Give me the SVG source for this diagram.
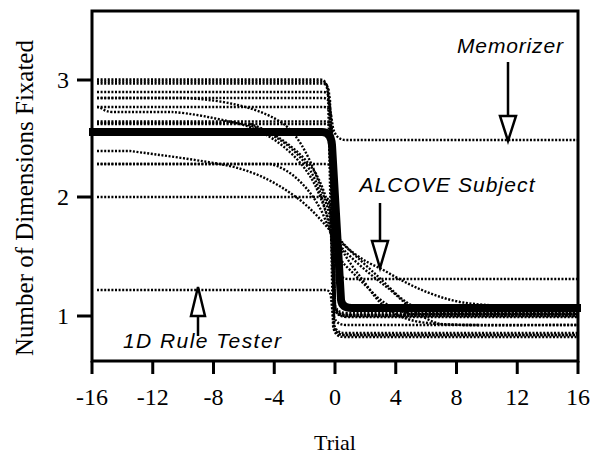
<svg xmlns="http://www.w3.org/2000/svg" width="592" height="455" viewBox="0 0 592 455">
<style>
.axis{fill:none;stroke:#000;stroke-width:3}
.tick{stroke:#000;stroke-width:3}
.dot{fill:none;stroke:#000;stroke-width:2.4;stroke-dasharray:2 1.6}
.thick{fill:none;stroke:#000;stroke-width:8;stroke-linejoin:round}
.num{font-family:"Liberation Serif","Times New Roman",serif;font-size:24px;fill:#000}
.ylab{font-family:"Liberation Serif","Times New Roman",serif;font-size:25px;fill:#000}
.lab{font-family:"Liberation Serif","Times New Roman",serif;font-size:22px;fill:#000}
.ann{font-family:"Liberation Sans",Arial,sans-serif;font-style:italic;font-size:21px;fill:#000}
.arr{fill:none;stroke:#000;stroke-width:2.5}
.head{fill:#fff;stroke:#000;stroke-width:2.5;stroke-linejoin:miter}
</style>
<g id="axes">
<path class="axis" d="M92,11 H578 V361 H92 Z"/>
<path class="tick" d="M77,80 H92 M77,197 H92 M77,316 H92"/>
<path class="tick" d="M92,361 V374 M152.75,361 V374 M213.5,361 V374 M274.25,361 V374 M335,361 V374 M395.75,361 V374 M456.5,361 V374 M517.25,361 V374 M578,361 V374"/>
<text class="num" x="69" y="88" text-anchor="end">3</text>
<text class="num" x="69" y="205" text-anchor="end">2</text>
<text class="num" x="69" y="324" text-anchor="end">1</text>
<g text-anchor="middle">
<text class="num" x="92" y="405">-16</text>
<text class="num" x="152.75" y="405">-12</text>
<text class="num" x="213.5" y="405">-8</text>
<text class="num" x="274.25" y="405">-4</text>
<text class="num" x="335" y="405">0</text>
<text class="num" x="395.75" y="405">4</text>
<text class="num" x="456.5" y="405">8</text>
<text class="num" x="517.25" y="405">12</text>
<text class="num" x="578" y="405">16</text>
</g>
<text class="lab" x="335" y="450" text-anchor="middle">Trial</text>
<text class="ylab" transform="translate(33,198) rotate(-90)" text-anchor="middle">Number of Dimensions Fixated</text>
</g>
<g id="connectors">
<path class="dot" d="M97,79.5 H320 Q326,79.5 327,88 L333,128 Q336,140 346,140 H578"/>
<path class="dot" d="M97,81.5 H321 Q327,81.5 328,90 L333,325 Q334,337 344,337 H578"/>
<path class="dot" d="M97,83.5 H322 Q328,83.5 329,92 L334,306 Q336,315 346,315 H578"/>
<path class="dot" d="M97,92 H323 Q329,92 330,100 L334,316 Q336,325 346,325 H578"/>
<path class="dot" d="M97,98 H323 Q329,98 330,106 L335,309 Q337,317 347,317 H578"/>
<path class="dot" d="M97,107 H324 Q330,107 331,115 L335,305 Q337,313 347,313 H578"/>
<path class="dot" d="M97,121.5 H325 Q331,121.5 332,130 L334,323 Q335,333 345,333 H578"/>
<path class="dot" d="M97,124 H325 Q331,124 332,132 L335,306 Q337,315 347,315 H578"/>
<path class="dot" d="M97,164 H326 Q331,164 332,172 L334,326 Q335,335 345,335 H578"/>
<path class="dot" d="M97,197 H324 Q329,197 330,206 L334,307 Q336,316 346,316 H578"/>
<path class="dot" d="M97,290 H326 Q330,290 331,297 L334,327 Q336,335 344,335 H578"/>
<path class="dot" d="M97,98 H185 C225,100 262,108 285,125 C310,145 325,200 335,232 C345,250 365,262 380,268 C405,283 430,296 460,302 C490,307 520,306 578,306"/>
<path class="dot" d="M97,107 C102,107 104,112 112,112 H172 C190,113 215,118 240,124 C270,132 300,155 315,185 C325,205 332,235 342,248 C355,262 372,276 388,288 C405,302 418,318 440,324 C470,326 520,325 578,325"/>
<path class="dot" d="M97,151 H130 C160,155 200,160 230,166 C260,173 280,185 300,200 C318,214 330,232 345,246 C360,260 378,276 395,293 C408,305 420,312 440,313 H578"/>
<path class="dot" d="M97,123 H240 C260,127 290,140 310,170 C325,195 332,240 337,265 Q339,279 348,279 H578"/>
<path class="dot" d="M97,164 H270 C290,168 310,188 322,212 C332,235 338,255 343,263 C352,272 365,285 377,297 C385,304 395,310 410,314 H578"/>
<path class="dot" d="M250,124 C275,132 300,150 315,172 C328,195 333,225 338,240 C345,260 360,275 370,290 C380,305 395,318 420,322 C440,325 460,325 480,325"/>
</g>
<g id="alcove-mean">
<path class="thick" d="M89,132 H322 Q331,132 332,145 L341,300 Q342,308 352,308 H581"/>
</g>
<g id="memorizer">
<text class="ann" x="510" y="53" text-anchor="middle" textLength="106" lengthAdjust="spacing">Memorizer</text>
<path class="arr" d="M508,62 V117"/>
<path class="head" d="M500,116 H516 L508,141 Z"/>
</g>
<g id="alcove-subject">
<text class="ann" x="447" y="192" text-anchor="middle" textLength="175" lengthAdjust="spacing">ALCOVE Subject</text>
<path class="arr" d="M380,203 V242"/>
<path class="head" d="M372,241 H388 L380,268 Z"/>
</g>
<g id="rule-tester">
<text class="ann" x="202" y="348" text-anchor="middle" textLength="158" lengthAdjust="spacing">1D Rule Tester</text>
<path class="arr" d="M198,336 V315"/>
<path class="head" d="M191,316 H205 L198,287 Z"/>
</g>
</svg>
